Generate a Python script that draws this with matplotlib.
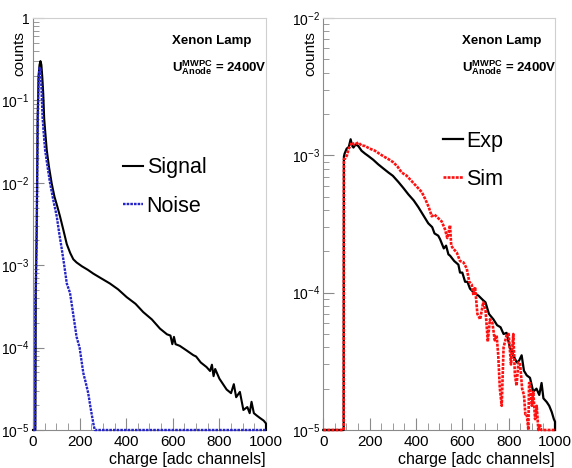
import numpy as np
import matplotlib
matplotlib.use("Agg")
import matplotlib.pyplot as plt
from matplotlib.ticker import FixedLocator, FixedFormatter, LogLocator, NullFormatter, MultipleLocator

plt.rcParams['font.family'] = ['Liberation Sans', 'DejaVu Sans']
plt.rcParams['mathtext.fontset'] = 'custom'
plt.rcParams['mathtext.rm'] = 'Liberation Sans'
plt.rcParams['mathtext.bf'] = 'Liberation Sans:bold'
plt.rcParams['mathtext.default'] = 'regular'

# left panel: signal / noise spectra (zero bins stored as 0)
sig_x = [0, 10, 12, 16, 20, 24, 28, 32, 36, 40, 44, 48, 53, 59, 68, 80, 92, 104, 116, 130,
         145, 160, 173, 187, 210, 235, 259, 290, 330, 365, 402, 440, 473, 510, 545, 575,
         590, 598, 605, 612, 630, 660, 688, 700, 720, 745, 760, 768, 775, 782, 800, 831,
         850, 862, 872, 888, 903, 920, 930, 938, 948, 960, 974, 990, 1000, 1000]
sig_y = [0, 0, 5e-4, 3e-3, 0.06, 0.2, 0.27, 0.30, 0.27, 0.19, 0.12, 0.06, 0.04, 0.025,
         0.016, 0.0099, 0.0068, 0.0052, 0.0039, 0.0027, 0.0018, 0.0014, 0.00118, 0.00108,
         0.00097, 0.00088, 0.00079, 0.0007, 0.0006, 0.00051, 0.00041, 0.00034, 0.00027,
         0.00022, 0.00017, 0.000145, 0.00014, 0.00011, 0.000135, 0.00011, 0.000105,
         9.2e-5, 8.1e-5, 7.8e-5, 6.6e-5, 5.8e-5, 5.2e-5, 6.2e-5, 4.5e-5, 5.5e-5, 4.2e-5,
         3.1e-5, 2.8e-5, 3.6e-5, 2.5e-5, 2.9e-5, 1.75e-5, 1.9e-5, 1.6e-5, 2.2e-5, 1.6e-5,
         1.5e-5, 1.4e-5, 1.3e-5, 1.2e-5, 0]

noise_x = [0, 9, 10, 12, 16, 20, 24, 28, 32, 36, 41, 46, 52, 62, 73, 87, 102, 112, 123,
           134, 145, 159, 173, 187, 200, 216, 226, 237, 248, 259, 265, 1000]
noise_y = [0, 0, 4e-4, 5e-4, 2.5e-3, 0.05, 0.18, 0.25, 0.24, 0.15, 0.063, 0.04, 0.025,
           0.016, 0.01, 0.0062, 0.0039, 0.0025, 0.0016, 0.001, 0.0006, 0.00046, 0.00025,
           0.000135, 0.0001, 4.9e-5, 3.8e-5, 2.8e-5, 1.8e-5, 1.2e-5, 0, 0]

# right panel: experiment / simulation
exp_x = [0, 88, 89, 92, 101, 110, 118, 124, 130, 140, 151, 165, 180, 194, 215, 237, 260,
         281, 300, 324, 345, 367, 390, 410, 430, 453, 470, 480, 496, 504, 520, 530, 540,
         547, 565, 583, 590, 600, 612, 622, 633, 650, 670, 690, 700, 715, 734, 750, 765,
         778, 791, 805, 820, 835, 845, 856, 866, 878, 892, 906, 920, 932, 942, 950, 964,
         975, 986, 995, 1000, 1000]
exp_y = [0, 0, 0.00098, 0.00103, 0.00112, 0.00115, 0.00131, 0.00118, 0.00114, 0.0012,
         0.00117, 0.00108, 0.00103, 0.00099, 0.00093, 0.00086, 0.0008, 0.00075, 0.00071,
         0.00064, 0.00058, 0.00052, 0.00047, 0.00042, 0.00037, 0.00032, 0.0003, 0.00027,
         0.00026, 0.000245, 0.00021, 0.00022, 0.00019, 0.000186, 0.00017, 0.00016,
         0.00014, 0.00014, 0.00012, 0.00012, 0.000107, 0.0001, 9.5e-5, 8.8e-5, 8.5e-5,
         7.0e-5, 6.4e-5, 5.8e-5, 5.6e-5, 5.0e-5, 5.1e-5, 4.0e-5, 3.5e-5, 3.1e-5, 3.2e-5,
         3.5e-5, 2.7e-5, 2.5e-5, 2.4e-5, 1.9e-5, 2.0e-5, 1.8e-5, 2.2e-5, 1.7e-5, 1.6e-5,
         1.5e-5, 1.35e-5, 1.2e-5, 1.15e-5, 0]

sim_x = [0, 88, 89, 95, 102, 110, 118, 122, 135, 151, 165, 180, 200, 223, 245, 266, 285,
         302, 320, 338, 360, 381, 400, 425, 440, 455, 468, 480, 495, 511, 525, 535, 547,
         552, 560, 576, 590, 605, 619, 630, 640, 648, 655, 665, 677, 690, 700, 710, 719,
         730, 740, 748, 755, 762, 770, 778, 791, 800, 810, 820, 827, 834, 842, 849, 858,
         866, 872, 878, 885, 888, 892, 900, 906, 914, 921, 928, 935, 940, 1000]
sim_y = [0, 0, 0.00094, 0.00095, 0.001, 0.00112, 0.00118, 0.00124, 0.0012, 0.00124,
         0.00118, 0.00117, 0.00112, 0.00108, 0.00102, 0.00097, 0.00093, 0.00089, 0.00083,
         0.00075, 0.00071, 0.00065, 0.0006, 0.00054, 0.00048, 0.00042, 0.00036, 0.00037,
         0.00035, 0.00033, 0.00029, 0.00025, 0.00031, 0.00022, 0.00021, 0.000196, 0.00017,
         0.000166, 0.00015, 0.00012, 0.000115, 9.6e-5, 0.00011, 7.0e-5, 6.4e-5, 8.5e-5,
         7.5e-5, 4.4e-5, 6.4e-5, 6.0e-5, 4.5e-5, 4.9e-5, 3.5e-5, 2.0e-5, 1.5e-5, 4.0e-5,
         4.9e-5, 5.0e-5, 3.0e-5, 5.0e-5, 2.5e-5, 2.1e-5, 3.1e-5, 3.1e-5, 2.0e-5, 1.8e-5,
         1.3e-5, 1.3e-5, 0, 2.2e-5, 2.2e-5, 1.5e-5, 1.9e-5, 1.2e-5, 1.5e-5, 0, 1.1e-5, 0, 0]

YMIN = 1e-5
grey = '#8a8a8a'
light = '#cfcfcf'
blue = '#2424c8'
red = '#ff1010'

fig = plt.figure(figsize=(5.72, 4.68), dpi=100)
ax1 = fig.add_axes([0.0577, 0.0812, 0.4073, 0.8803])
ax2 = fig.add_axes([0.5652, 0.0812, 0.4051, 0.8803])


def style(ax, top_exp):
    ax.set_yscale('log')
    ax.set_xlim(0, 1000)
    ax.set_ylim(YMIN, 10.0 ** top_exp)
    exps = list(range(-5, top_exp + 1))
    labs = ['1' if e == 0 else r'$10^{-%d}$' % (-e) for e in exps]
    ax.yaxis.set_major_locator(FixedLocator([10.0 ** e for e in exps]))
    ax.yaxis.set_major_formatter(FixedFormatter(labs))
    ax.yaxis.set_minor_locator(LogLocator(base=10, subs=np.arange(2, 10), numticks=20))
    ax.yaxis.set_minor_formatter(NullFormatter())
    ax.xaxis.set_major_locator(MultipleLocator(200))
    ax.xaxis.set_minor_locator(MultipleLocator(50))
    ax.tick_params(which='both', direction='in', color=grey, labelsize=10)
    ax.tick_params(axis='y', which='major', length=8, pad=2.5)
    ax.tick_params(axis='y', which='minor', length=4.5)
    ax.tick_params(axis='x', which='major', length=9, pad=3.5, labelsize=11)
    ax.tick_params(axis='x', which='minor', length=5)
    ax.spines['left'].set_color(grey)
    ax.spines['bottom'].set_color(grey)
    ax.spines['top'].set_color(light)
    ax.spines['right'].set_color(light)
    ax.set_xlabel('charge [adc channels]', fontsize=11.5, loc='right', labelpad=2)
    ax.set_ylabel('counts', fontsize=11, loc='top')
    ax.yaxis.set_label_coords(-0.027, 0.968)
    ax.text(0.598, 0.945, 'Xenon Lamp', transform=ax.transAxes, fontsize=9.5,
            fontweight='bold', va='center', ha='left')
    ax.text(0.598, 0.88, r'$\mathbf{U^{MWPC}_{Anode}}$ = 2400V', transform=ax.transAxes,
            fontsize=9.5, fontweight='bold', va='center', ha='left')


style(ax1, 0)
style(ax2, -2)

l1, = ax1.plot(sig_x, np.maximum(sig_y, YMIN), color='black', lw=1.5, clip_on=False, zorder=4)
l2, = ax1.plot(noise_x, np.maximum(noise_y, YMIN), color=blue, lw=1.7, ls=(0, (1.1, 0.45)),
               clip_on=False, zorder=5)
ax1.legend([l1, l2], ['Signal', 'Noise'], loc='center left', bbox_to_anchor=(0.386, 0.59),
           frameon=False, fontsize=15.5, handlelength=0.95, handletextpad=0.15,
           borderpad=0, borderaxespad=0, labelspacing=0.8)

r1, = ax2.plot(exp_x, np.maximum(exp_y, YMIN), color='black', lw=1.6, clip_on=False, zorder=4)
r2, = ax2.plot(sim_x, np.maximum(sim_y, YMIN), color=red, lw=1.9, ls=(0, (1.1, 0.45)),
               clip_on=False, zorder=5)
ax2.legend([r1, r2], ['Exp', 'Sim'], loc='center left', bbox_to_anchor=(0.515, 0.655),
           frameon=False, fontsize=15.5, handlelength=0.95, handletextpad=0.15,
           borderpad=0, borderaxespad=0, labelspacing=0.8)

fig.savefig('out.png', dpi=100)
